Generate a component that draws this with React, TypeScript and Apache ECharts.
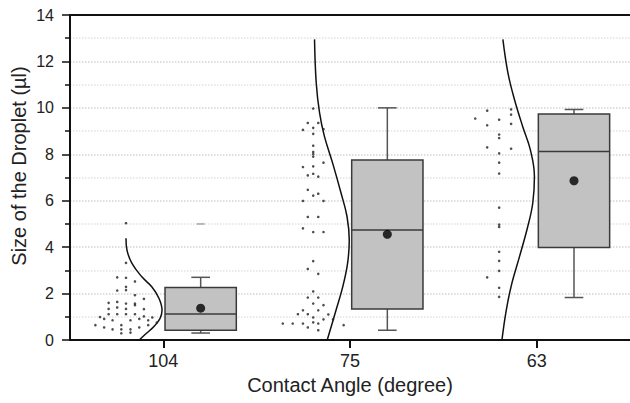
import React, { useEffect, useRef } from "react";
import * as echarts from "echarts";

const categories = ["104", "75", "63"];
const yTicks = [0, 2, 4, 6, 8, 10, 12, 14];

// box statistics per category
const whiskerLow = [0.3, 0.42, 1.83];
const q1 = [0.42, 1.34, 3.99];
const median = [1.12, 4.74, 8.12];
const q3 = [2.26, 7.75, 9.74];
const whiskerHigh = [2.7, 10.0, 9.93];
const means = [1.37, 4.55, 6.86];
const outliers = [[0, 5.0]]; // [category index, value]

// raw droplets [jitter offset from category, size]
const dots104 = [
  [-0.2, 5.03], [-0.2, 3.32], [-0.247, 2.7], [-0.2, 2.68], [-0.152, 2.52],
  [-0.2, 2.29], [-0.247, 2.13], [-0.2, 2.15], [-0.152, 1.93], [-0.104, 1.77],
  [-0.293, 1.6], [-0.247, 1.64], [-0.2, 1.57], [-0.152, 1.57], [-0.152, 1.5],
  [-0.293, 1.34], [-0.247, 1.4], [-0.2, 1.34], [-0.104, 1.33],
  [-0.339, 0.99], [-0.293, 1.11], [-0.247, 1.11], [-0.2, 1.11], [-0.152, 1.11],
  [-0.104, 1.02], [-0.059, 0.97], [-0.317, 0.91], [-0.272, 0.85], [-0.176, 0.85],
  [-0.129, 0.91], [-0.081, 0.85], [-0.035, 0.75], [-0.364, 0.64], [-0.317, 0.54],
  [-0.272, 0.46], [-0.225, 0.64], [-0.225, 0.46], [-0.225, 0.29], [-0.176, 0.46],
  [-0.176, 0.32], [-0.129, 0.54], [-0.081, 0.64],
];
const dots75 = [
  [-0.197, 9.97], [-0.226, 9.35], [-0.17, 9.35], [-0.252, 9.05], [-0.197, 9.14],
  [-0.142, 9.08], [-0.197, 8.88], [-0.197, 8.37], [-0.197, 8.1], [-0.197, 8.01],
  [-0.197, 7.9], [-0.142, 7.64], [-0.252, 7.45], [-0.197, 7.48], [-0.226, 7.09],
  [-0.197, 7.16], [-0.17, 7.04], [-0.226, 6.47], [-0.197, 6.22], [-0.17, 6.3],
  [-0.252, 5.99], [-0.142, 5.99], [-0.226, 5.3], [-0.17, 5.3], [-0.252, 4.81],
  [-0.197, 4.65], [-0.142, 4.65], [-0.197, 3.4], [-0.226, 3.06], [-0.17, 2.85],
  [-0.197, 2.09], [-0.226, 1.83], [-0.17, 1.83], [-0.197, 1.57], [-0.142, 1.5],
  [-0.252, 1.28], [-0.17, 1.28], [-0.279, 1.11], [-0.226, 1.11], [-0.116, 1.1],
  [-0.197, 0.97], [-0.142, 0.89], [-0.091, 0.89], [-0.36, 0.71], [-0.307, 0.71],
  [-0.252, 0.71], [-0.17, 0.71], [-0.197, 0.76], [-0.034, 0.64], [-0.226, 0.54],
  [-0.17, 0.42],
];
const dots63 = [
  [-0.265, 9.88], [-0.137, 9.93], [-0.137, 9.71], [-0.329, 9.54], [-0.201, 9.49],
  [-0.265, 9.25], [-0.137, 9.31], [-0.201, 8.85], [-0.201, 8.7], [-0.265, 8.3],
  [-0.137, 8.24], [-0.201, 8.04], [-0.201, 7.64], [-0.201, 7.17], [-0.201, 5.7],
  [-0.201, 4.97], [-0.201, 4.87], [-0.201, 3.8], [-0.201, 3.41], [-0.201, 2.98],
  [-0.265, 2.7], [-0.201, 2.25], [-0.201, 1.86],
];

// distribution curves [offset from category, size]
const curve104 = [
  [-0.2, 4.38], [-0.195, 3.88], [-0.168, 3.3], [-0.115, 2.72], [-0.062, 2.29],
  [-0.023, 1.79], [-0.007, 1.28], [-0.018, 0.92], [-0.053, 0.56], [-0.092, 0.28],
  [-0.129, 0.0],
];
const curve75 = [
  [-0.19, 12.95], [-0.181, 11.08], [-0.163, 9.78], [-0.137, 8.77], [-0.093, 7.62],
  [-0.048, 6.33], [-0.016, 5.32], [-0.004, 4.31], [-0.013, 3.3], [-0.039, 2.29],
  [-0.075, 1.28], [-0.122, 0.0],
];
const curve63 = [
  [-0.181, 12.95], [-0.154, 11.51], [-0.119, 10.36], [-0.075, 9.2], [-0.034, 8.2],
  [-0.012, 7.04], [-0.021, 5.89], [-0.048, 4.88], [-0.092, 3.59], [-0.133, 2.44],
  [-0.163, 1.28], [-0.186, 0.0],
];

const dotSets = [dots104, dots75, dots63];
const curves = [curve104, curve75, curve63];

const FONT = '"Liberation Sans", Arial, sans-serif';
const BOX_SHIFT = 0.2;
const BOX_WIDTH = 0.382;
const CAP_WIDTH = 0.1;

export default function App() {
  const ref = useRef<HTMLDivElement>(null);

  useEffect(() => {
    document.body.style.margin = "0";
    const chart = echarts.init(ref.current!, null, { renderer: "svg" });

    const dotData: number[][] = [];
    dotSets.forEach((set, i) => set.forEach(([o, v]) => dotData.push([i + o, v])));

    const curveSeries = curves.map((c, i) => ({
      type: "line",
      xAxisIndex: 1,
      data: c.map(([o, v]) => [i + o, v]),
      smooth: 0.4,
      showSymbol: false,
      symbol: "none",
      lineStyle: { color: "#111", width: 1.5 },
      silent: true,
      z: 3,
    }));

    const boxData = categories.map((_, i) => [
      i + BOX_SHIFT, whiskerLow[i], q1[i], median[i], q3[i], whiskerHigh[i],
    ]);

    chart.setOption({
      animation: false,
      grid: { left: 70, top: 15, width: 563, height: 325 },
      xAxis: [
        {
          type: "category",
          data: categories,
          position: "bottom",
          boundaryGap: true,
          axisLine: { show: true, onZero: false, lineStyle: { color: "#111", width: 2 } },
          axisTick: { show: true, alignWithLabel: true, length: 8, lineStyle: { color: "#111", width: 2 } },
          axisLabel: { fontSize: 18, color: "#222", margin: 12, fontFamily: FONT },
          splitLine: { show: false },
          name: "Contact Angle (degree)",
          nameLocation: "middle",
          nameGap: 35,
          nameTextStyle: { fontSize: 20, color: "#222", fontFamily: FONT },
        },
        {
          type: "value",
          min: -0.5,
          max: 2.5,
          position: "top",
          axisLine: { show: true, onZero: false, lineStyle: { color: "#111", width: 2 } },
          axisTick: { show: false },
          axisLabel: { show: false },
          splitLine: { show: false },
        },
      ],
      yAxis: {
        type: "value",
        min: yTicks[0],
        max: yTicks[yTicks.length - 1],
        interval: 2,
        axisLine: { show: true, onZero: false, lineStyle: { color: "#111", width: 2 } },
        axisTick: { show: true, length: 8, lineStyle: { color: "#111", width: 1.5 } },
        minorTick: { show: true, splitNumber: 2, length: 5, lineStyle: { color: "#111", width: 1.5 } },
        axisLabel: { fontSize: 16, color: "#222", margin: 16, fontFamily: FONT },
        splitLine: { show: true, lineStyle: { color: "#d4d4d4", type: "dotted", width: 1.5 } },
        minorSplitLine: { show: true, lineStyle: { color: "#e2e2e2", type: "dotted", width: 1.5 } },
      },
      graphic: [
        {
          type: "text",
          x: 19,
          y: 166,
          rotation: Math.PI / 2,
          style: {
            text: "Size of the Droplet (µl)",
            fontSize: 20,
            fontFamily: FONT,
            fill: "#222",
            textAlign: "center",
            textVerticalAlign: "middle",
          },
        },
      ],
      series: [
        {
          type: "custom",
          xAxisIndex: 1,
          data: boxData,
          encode: { x: 0, y: [1, 2, 3, 4, 5] },
          z: 2,
          renderItem: (params: any, api: any) => {
            const x = api.value(0);
            const pLow = api.coord([x, api.value(1)]);
            const pQ1 = api.coord([x, api.value(2)]);
            const pMed = api.coord([x, api.value(3)]);
            const pQ3 = api.coord([x, api.value(4)]);
            const pHigh = api.coord([x, api.value(5)]);
            const half = api.size([BOX_WIDTH, 0])[0] / 2;
            const cap = api.size([CAP_WIDTH, 0])[0] / 2;
            const cx = pMed[0];
            const whisk = { stroke: "#555", lineWidth: 1.5 };
            const edge = { stroke: "#3a3a3a", lineWidth: 1.5 };
            return {
              type: "group",
              children: [
                { type: "line", shape: { x1: cx, y1: pQ3[1], x2: cx, y2: pHigh[1] }, style: whisk },
                { type: "line", shape: { x1: cx, y1: pQ1[1], x2: cx, y2: pLow[1] }, style: whisk },
                { type: "line", shape: { x1: cx - cap, y1: pHigh[1], x2: cx + cap, y2: pHigh[1] }, style: whisk },
                { type: "line", shape: { x1: cx - cap, y1: pLow[1], x2: cx + cap, y2: pLow[1] }, style: whisk },
                {
                  type: "rect",
                  shape: { x: cx - half, y: pQ3[1], width: half * 2, height: pQ1[1] - pQ3[1] },
                  style: { fill: "#c2c2c2", ...edge },
                },
                { type: "line", shape: { x1: cx - half, y1: pMed[1], x2: cx + half, y2: pMed[1] }, style: edge },
              ],
            };
          },
        },
        {
          type: "scatter",
          xAxisIndex: 1,
          data: means.map((m, i) => [i + BOX_SHIFT, m]),
          symbol: "circle",
          symbolSize: 9,
          itemStyle: { color: "#000" },
          z: 5,
        },
        {
          type: "scatter",
          xAxisIndex: 1,
          data: outliers.map(([i, v]) => [i + BOX_SHIFT, v]),
          symbol: "rect",
          symbolSize: [8, 2],
          itemStyle: { color: "#a8a8a8" },
          z: 5,
        },
        {
          type: "scatter",
          xAxisIndex: 1,
          data: dotData,
          symbol: "circle",
          symbolSize: 2.6,
          itemStyle: { color: "#222" },
          z: 4,
        },
        ...curveSeries,
      ],
    });

    return () => chart.dispose();
  }, []);

  return <div ref={ref} style={{ width: 630, height: 403 }} />;
}
